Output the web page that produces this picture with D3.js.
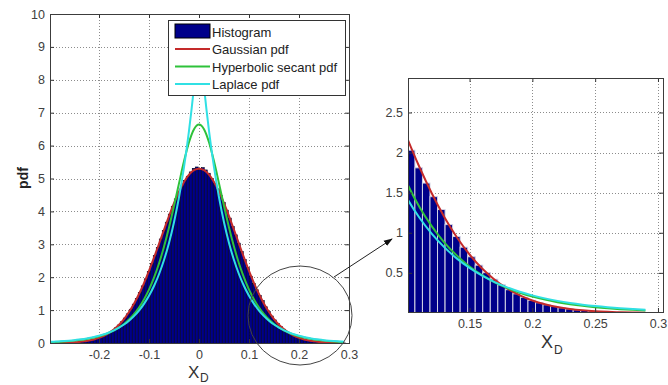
<!DOCTYPE html>
<html>
<head>
<meta charset="utf-8">
<script src="https://cdn.jsdelivr.net/npm/d3@7"></script>
<style>
body { margin: 0; background: #fff; }
svg { font-family: "Liberation Sans", Arial, sans-serif; }
</style>
</head>
<body>
<svg id="chart" width="668" height="385"></svg>
<script>
// histogram bins: start of first bin and bin width (x_D units)
const HIST_START = -0.2895;
const BIN_WIDTH = 0.006;
const histValues = [
    0.004, 0.005, 0.007, 0.009, 0.012, 0.016, 0.021, 0.027, 0.035, 0.045,
    0.058, 0.073, 0.092, 0.115, 0.143, 0.176, 0.215, 0.263, 0.319, 0.385,
    0.460, 0.547, 0.645, 0.758, 0.885, 1.026, 1.181, 1.352, 1.536, 1.736,
    1.950, 2.175, 2.411, 2.656, 2.907, 3.162, 3.418, 3.672, 3.919, 4.157,
    4.381, 4.587, 4.772, 4.934, 5.069, 5.200, 5.310, 5.350,
    5.280, 5.330, 5.260, 5.160, 5.005, 4.856, 4.682, 4.485, 4.270, 4.039,
    3.797, 3.545, 3.288, 3.035, 2.782, 2.532, 2.291, 2.030, 1.810, 1.620,
    1.450, 1.290, 1.102, 0.953, 0.820, 0.701, 0.596, 0.503, 0.421, 0.351,
    0.290, 0.239, 0.195, 0.158, 0.128, 0.103, 0.082, 0.065, 0.051, 0.040,
    0.031, 0.024, 0.018, 0.014, 0.011, 0.008, 0.006, 0.004, 0.003
];

// fitted pdf curves sampled every 0.01 from -0.30 to 0.29
const curveX = d3.range(-30, 30).map(i => i / 100);
const gaussianPdf = [
    0.0019, 0.0032, 0.0053, 0.0086, 0.0137, 0.0214, 0.0330, 0.0500, 0.0743, 0.1085,
    0.156, 0.220, 0.305, 0.415, 0.555, 0.729, 0.941, 1.194, 1.489, 1.823,
    2.194, 2.594, 3.014, 3.440, 3.858, 4.251, 4.602, 4.896, 5.116, 5.253,
    5.300,
    5.253, 5.116, 4.896, 4.602, 4.251, 3.858, 3.440, 3.014, 2.594, 2.194,
    1.823, 1.489, 1.194, 0.941, 0.729, 0.555, 0.415, 0.305, 0.220, 0.156,
    0.1085, 0.0743, 0.0500, 0.0330, 0.0214, 0.0137, 0.0086, 0.0053, 0.0032
];
const sechPdf = [
    0.0254, 0.0313, 0.0386, 0.0475, 0.0586, 0.0722, 0.0889, 0.1095, 0.1349, 0.1662,
    0.2048, 0.2522, 0.3106, 0.3826, 0.471, 0.580, 0.715, 0.878, 1.0795, 1.325,
    1.624, 1.985, 2.417, 2.926, 3.511, 4.163, 4.851, 5.523, 6.101, 6.498,
    6.640,
    6.498, 6.101, 5.523, 4.851, 4.163, 3.511, 2.926, 2.417, 1.985, 1.624,
    1.325, 1.0795, 0.878, 0.715, 0.580, 0.471, 0.3826, 0.3106, 0.2522, 0.2048,
    0.1662, 0.1349, 0.1095, 0.0889, 0.0722, 0.0586, 0.0475, 0.0386, 0.0313
];
const laplacePdf = [
    0.0336, 0.0405, 0.0489, 0.0590, 0.0712, 0.0859, 0.1036, 0.1250, 0.1508, 0.1820,
    0.2196, 0.2650, 0.3197, 0.3857, 0.4654, 0.5616, 0.6776, 0.8175, 0.9864, 1.190,
    1.436, 1.732, 2.090, 2.522, 3.043, 3.672, 4.430, 5.346, 6.450, 7.783,
    9.390,
    7.783, 6.450, 5.346, 4.430, 3.672, 3.043, 2.522, 2.090, 1.732, 1.436,
    1.190, 0.9864, 0.8175, 0.6776, 0.5616, 0.4654, 0.3857, 0.3197, 0.2650, 0.2196,
    0.1820, 0.1508, 0.1250, 0.1036, 0.0859, 0.0712, 0.0590, 0.0489, 0.0405
];

const legendLabels = ["Histogram", "Gaussian pdf", "Hyperbolic secant pdf", "Laplace pdf"];

const leftXTicks = [-0.2, -0.1, 0, 0.1, 0.2, 0.3];
const leftYTicks = [0, 1, 2, 3, 4, 5, 6, 7, 8, 9, 10];
const rightXTicks = [0.15, 0.2, 0.25, 0.3];
const rightYTicks = [0.5, 1, 1.5, 2, 2.5];

const NAVY = "#00008a";
const RED = "#c42a2a";
const GREEN = "#2ec23a";
const CYAN = "#30e0e4";

const svg = d3.select("#chart");
const bins = histValues.map((v, i) => ({ x0: HIST_START + i * BIN_WIDTH, x1: HIST_START + (i + 1) * BIN_WIDTH, v: v }));
const series = [
    { values: gaussianPdf, color: RED },
    { values: sechPdf, color: GREEN },
    { values: laplacePdf, color: CYAN }
];

function panel(id, x, y, xTicks, yTicks, barStroke, barStrokeWidth) {
    const [x0, x1] = x.range();
    const [y1, y0] = y.range();
    const g = svg.append("g");

    svg.append("clipPath").attr("id", id)
        .append("rect").attr("x", x0).attr("y", y0).attr("width", x1 - x0).attr("height", y1 - y0);

    // dotted grid
    g.append("g").selectAll("line.vx")
        .data(xTicks.filter(t => x(t) < x1 - 1))
        .enter().append("line")
        .attr("x1", d => Math.round(x(d)) + 0.5).attr("x2", d => Math.round(x(d)) + 0.5)
        .attr("y1", y0).attr("y2", y1)
        .attr("stroke", "#8c8c8c").attr("stroke-dasharray", "1,2");
    g.append("g").selectAll("line.hy")
        .data(yTicks.filter(t => y(t) > y0 + 1 && y(t) < y1 - 1))
        .enter().append("line")
        .attr("x1", x0).attr("x2", x1)
        .attr("y1", d => Math.round(y(d)) + 0.5).attr("y2", d => Math.round(y(d)) + 0.5)
        .attr("stroke", "#8c8c8c").attr("stroke-dasharray", "1,2");

    const plot = g.append("g").attr("clip-path", `url(#${id})`);

    plot.selectAll(".bar")
        .data(bins)
        .enter().append("rect")
        .attr("class", "bar")
        .attr("x", d => x(d.x0))
        .attr("width", d => x(d.x1) - x(d.x0))
        .attr("y", d => y(d.v))
        .attr("height", d => Math.max(0, y(y.domain()[0]) - y(d.v) + 2))
        .attr("fill", NAVY)
        .attr("stroke", barStroke)
        .attr("stroke-width", barStrokeWidth);

    const line = d3.line()
        .x((d, i) => x(curveX[i]))
        .y(d => y(d))
        .curve(d3.curveMonotoneX);

    plot.selectAll(".pdf")
        .data(series)
        .enter().append("path")
        .attr("class", "pdf")
        .attr("d", s => line(s.values))
        .attr("fill", "none")
        .attr("stroke", s => s.color)
        .attr("stroke-width", 2);

    // axes, MATLAB style ticks inside
    const fmt = d => String(d);
    const styleAxis = a => {
        a.select(".domain").remove();
        a.selectAll("line").attr("stroke", "#333");
        a.selectAll("text").attr("fill", "#404040").attr("font-size", "12.5px")
            .attr("font-family", "'Liberation Sans', Arial, sans-serif");
    };
    g.append("g").attr("transform", `translate(0,${y1})`)
        .call(d3.axisBottom(x).tickValues(xTicks).tickFormat(fmt).tickSizeInner(-4).tickSizeOuter(0).tickPadding(7))
        .call(styleAxis);
    g.append("g").attr("transform", `translate(0,${y0})`)
        .call(d3.axisTop(x).tickValues(xTicks).tickFormat("").tickSizeInner(-4).tickSizeOuter(0))
        .call(styleAxis);
    g.append("g").attr("transform", `translate(${x0},0)`)
        .call(d3.axisLeft(y).tickValues(yTicks).tickFormat(fmt).tickSizeInner(-4).tickSizeOuter(0).tickPadding(5))
        .call(styleAxis);
    g.append("g").attr("transform", `translate(${x1},0)`)
        .call(d3.axisRight(y).tickValues(yTicks).tickFormat("").tickSizeInner(-4).tickSizeOuter(0))
        .call(styleAxis);

    g.append("rect")
        .attr("x", x0 + 0.5).attr("y", y0 + 0.5)
        .attr("width", x1 - x0).attr("height", y1 - y0)
        .attr("fill", "none").attr("stroke", "#3c3c3c");
    return g;
}

const leftX = d3.scaleLinear().domain([-0.298, 0.3]).range([50, 349]);
const leftY = d3.scaleLinear().domain([0, 10]).range([343, 14]);
const rightX = d3.scaleLinear().domain([0.101, 0.304]).range([408, 663]);
const rightY = d3.scaleLinear().domain([0.012, 2.93]).range([312, 78]);

panel("clipLeft", leftX, leftY, leftXTicks, leftYTicks, "#000018", 0.6);
panel("clipRight", rightX, rightY, rightXTicks, rightYTicks, "#d4d4e4", 1);

// legend
const legend = svg.append("g").attr("transform", "translate(168,20)");
legend.append("rect")
    .attr("x", 0.5).attr("y", 0.5).attr("width", 177).attr("height", 75)
    .attr("fill", "#fff").attr("stroke", "#333");
const rows = legend.selectAll(".row")
    .data(legendLabels)
    .enter().append("g")
    .attr("transform", (d, i) => `translate(0,${11.5 + i * 17.5})`);
rows.each(function (d, i) {
    const r = d3.select(this);
    if (i === 0) {
        r.append("rect").attr("x", 7).attr("y", -7.5).attr("width", 35).attr("height", 14)
            .attr("fill", NAVY).attr("stroke", "#000");
    } else {
        r.append("line").attr("x1", 7).attr("x2", 42).attr("y1", 0).attr("y2", 0)
            .attr("stroke", series[i - 1].color).attr("stroke-width", 2);
    }
    r.append("text").attr("x", 44).attr("y", 5).attr("font-size", "13px").attr("fill", "#222").text(d);
});

// axis labels
svg.append("text").attr("transform", "translate(28,178) rotate(-90)")
    .attr("text-anchor", "middle").attr("font-size", "14px").attr("font-weight", "bold")
    .attr("fill", "#222").text("pdf");
svg.append("text").attr("x", 188).attr("y", 378).attr("font-size", "17px").attr("fill", "#333").text("X");
svg.append("text").attr("x", 200).attr("y", 382).attr("font-size", "12px").attr("fill", "#333").text("D");
svg.append("text").attr("x", 541).attr("y", 348).attr("font-size", "18px").attr("fill", "#333").text("X");
svg.append("text").attr("x", 554).attr("y", 354).attr("font-size", "12px").attr("fill", "#333").text("D");

// zoom marker: circle around the tail and arrow to the detail plot
svg.append("defs").append("marker")
    .attr("id", "arrow").attr("viewBox", "0 0 10 10")
    .attr("refX", 9).attr("refY", 5)
    .attr("markerWidth", 9).attr("markerHeight", 9)
    .attr("orient", "auto")
    .append("path").attr("d", "M0,1.5 L10,5 L0,8.5 Z").attr("fill", "#111");
svg.append("ellipse")
    .attr("cx", 300).attr("cy", 315.5).attr("rx", 52).attr("ry", 49.5)
    .attr("fill", "none").attr("stroke", "#444").attr("stroke-width", 1);
svg.append("line")
    .attr("x1", 334).attr("y1", 277).attr("x2", 392).attr("y2", 239)
    .attr("stroke", "#222").attr("stroke-width", 1)
    .attr("marker-end", "url(#arrow)");
</script>
</body>
</html>
